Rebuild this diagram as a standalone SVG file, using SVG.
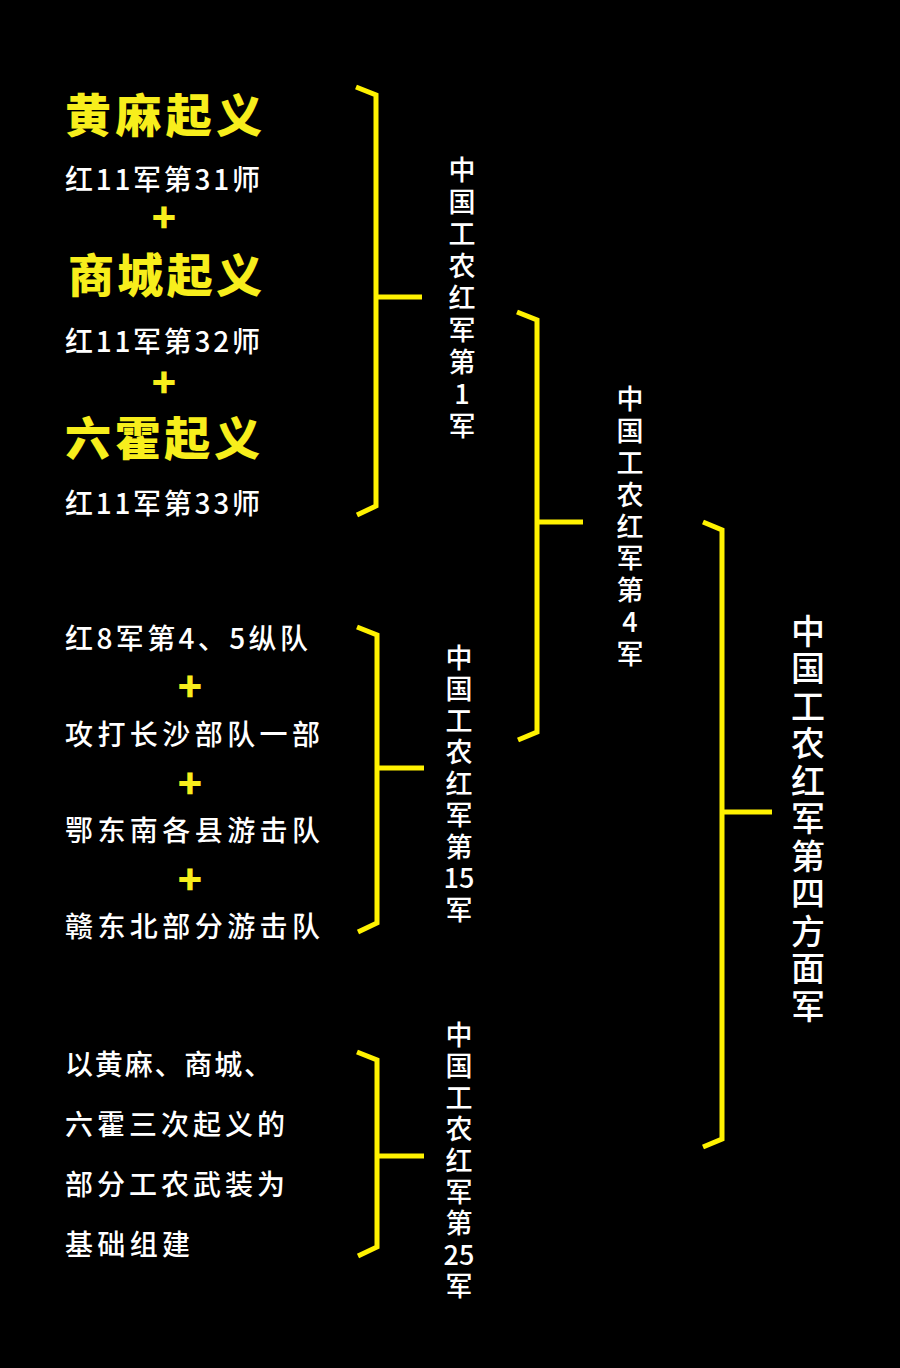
<svg xmlns="http://www.w3.org/2000/svg" width="900" height="1368" viewBox="0 0 900 1368">
<style>
text{font-family:"Noto Sans CJK SC","Noto Sans",sans-serif;dominant-baseline:central}
.big{fill:#F7EE1C;font-size:46px;font-weight:900}
.w{fill:#fff;font-size:28px;font-weight:500}
.plus{fill:#F7EE1C;font-size:40px;font-weight:900;text-anchor:middle}
.v{fill:#fff;font-size:27px;font-weight:500;text-anchor:middle}
.vb{fill:#fff;font-size:34px;font-weight:500;text-anchor:middle}
.br{fill:none;stroke:#FFF200;stroke-width:5;stroke-linejoin:miter}
</style>
<rect width="900" height="1368" fill="#000"/>
<g id="connectors">
<path class="br" d="M356 87 L376 95 L376 506 L357 515 M376 297 L422 297"/>
<path class="br" d="M517 312 L537 320 L537 732 L518 740 M537 522 L583 522"/>
<path class="br" d="M703 522 L722 530 L722 1139 L703 1147 M722 812 L772 812"/>
<path class="br" d="M357 627 L377 635 L377 923 L358 932 M377 768 L424 768"/>
<path class="br" d="M357 1052 L377 1060 L377 1247 L358 1256 M377 1156 L424 1156"/>
</g>
<g id="group1">
<text class="big" x="65" y="112" textLength="197" lengthAdjust="spacing">黄麻起义</text>
<text class="w" x="65" y="178" textLength="195" lengthAdjust="spacing">红11军第31师</text>
<text class="plus" x="164" y="216">+</text>
<text class="big" x="68" y="272" textLength="194" lengthAdjust="spacing">商城起义</text>
<text class="w" x="65" y="340" textLength="195" lengthAdjust="spacing">红11军第32师</text>
<text class="plus" x="164" y="381">+</text>
<text class="big" x="65" y="435" textLength="195" lengthAdjust="spacing">六霍起义</text>
<text class="w" x="65" y="502" textLength="195" lengthAdjust="spacing">红11军第33师</text>
</g>
<g id="group2">
<text class="w" x="65" y="637" textLength="243" lengthAdjust="spacing">红8军第4、5纵队</text>
<text class="plus" x="190" y="685">+</text>
<text class="w" x="65" y="733" textLength="255" lengthAdjust="spacing">攻打长沙部队一部</text>
<text class="plus" x="190" y="782">+</text>
<text class="w" x="65" y="829" textLength="255" lengthAdjust="spacing">鄂东南各县游击队</text>
<text class="plus" x="190" y="878">+</text>
<text class="w" x="65" y="925" textLength="255" lengthAdjust="spacing">赣东北部分游击队</text>
</g>
<g id="group3">
<text class="w" x="65" y="1063" textLength="207" lengthAdjust="spacing">以黄麻、商城、</text>
<text class="w" x="65" y="1123" textLength="220" lengthAdjust="spacing">六霍三次起义的</text>
<text class="w" x="65" y="1183" textLength="220" lengthAdjust="spacing">部分工农武装为</text>
<text class="w" x="65" y="1243" textLength="125" lengthAdjust="spacing">基础组建</text>
</g>
<g id="army1">
<text class="v"><tspan x="462" y="168">中</tspan><tspan x="462" y="200">国</tspan><tspan x="462" y="232">工</tspan><tspan x="462" y="264">农</tspan><tspan x="462" y="296">红</tspan><tspan x="462" y="328">军</tspan><tspan x="462" y="360">第</tspan><tspan x="462" y="392">1</tspan><tspan x="462" y="424">军</tspan></text>
</g>
<g id="army4">
<text class="v"><tspan x="630" y="397">中</tspan><tspan x="630" y="429">国</tspan><tspan x="630" y="461">工</tspan><tspan x="630" y="493">农</tspan><tspan x="630" y="525">红</tspan><tspan x="630" y="556">军</tspan><tspan x="630" y="588">第</tspan><tspan x="630" y="620">4</tspan><tspan x="630" y="652">军</tspan></text>
</g>
<g id="army15">
<text class="v"><tspan x="459" y="656">中</tspan><tspan x="459" y="687">国</tspan><tspan x="459" y="719">工</tspan><tspan x="459" y="750">农</tspan><tspan x="459" y="782">红</tspan><tspan x="459" y="813">军</tspan><tspan x="459" y="845">第</tspan><tspan x="459" y="876">15</tspan><tspan x="459" y="908">军</tspan></text>
</g>
<g id="army25">
<text class="v"><tspan x="459" y="1033">中</tspan><tspan x="459" y="1064">国</tspan><tspan x="459" y="1096">工</tspan><tspan x="459" y="1127">农</tspan><tspan x="459" y="1159">红</tspan><tspan x="459" y="1190">军</tspan><tspan x="459" y="1221">第</tspan><tspan x="459" y="1253">25</tspan><tspan x="459" y="1284">军</tspan></text>
</g>
<g id="front4">
<text class="vb"><tspan x="808" y="629">中</tspan><tspan x="808" y="666">国</tspan><tspan x="808" y="704">工</tspan><tspan x="808" y="741">农</tspan><tspan x="808" y="779">红</tspan><tspan x="808" y="816">军</tspan><tspan x="808" y="854">第</tspan><tspan x="808" y="891">四</tspan><tspan x="808" y="929">方</tspan><tspan x="808" y="966">面</tspan><tspan x="808" y="1004">军</tspan></text>
</g>
</svg>
